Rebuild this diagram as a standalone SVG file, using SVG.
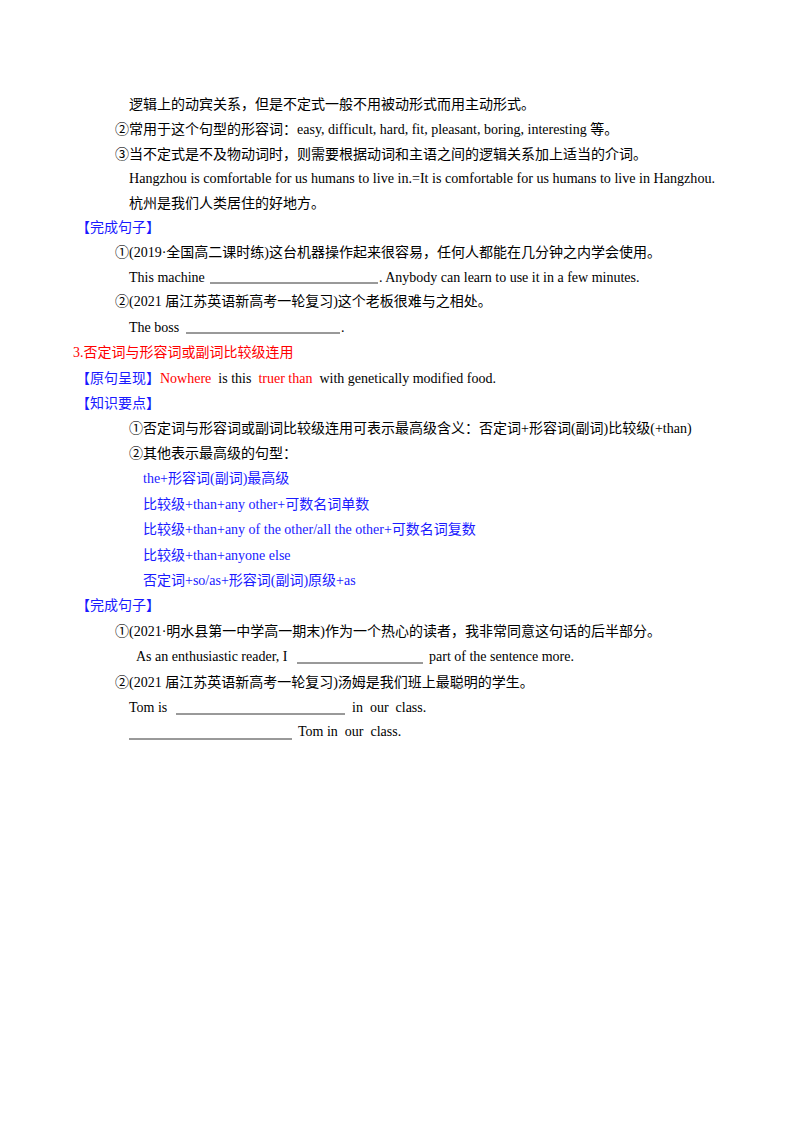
<svg xmlns="http://www.w3.org/2000/svg" width="800" height="1132" viewBox="0 0 800 1132">
<style>
text{font-family:"Liberation Serif","Noto Sans CJK SC",serif;font-size:14px;fill:#000}
.b{fill:#1a1aff}.r{fill:#ff0000}
line{stroke:#000;stroke-width:0.8}
</style>
<rect width="800" height="1132" fill="#fff"/>
<text x="129" y="109">逻辑上的动宾关系，但是不定式一般不用被动形式而用主动形式。</text>
<text x="115" y="134">②常用于这个句型的形容词：easy, difficult, hard, fit, pleasant, boring, interesting 等。</text>
<text x="115" y="159">③当不定式是不及物动词时，则需要根据动词和主语之间的逻辑关系加上适当的介词。</text>
<text x="129" y="183" textLength="586" lengthAdjust="spacingAndGlyphs">Hangzhou is comfortable for us humans to live in.=It is comfortable for us humans to live in Hangzhou.</text>
<text x="129" y="208">杭州是我们人类居住的好地方。</text>
<text x="76" y="232" class="b">【完成句子】</text>
<text x="115" y="257">①(2019·全国高二课时练)这台机器操作起来很容易，任何人都能在几分钟之内学会使用。</text>
<text x="129" y="282">This machine</text><line x1="210" y1="283" x2="378" y2="283"/><text x="379" y="282">. Anybody can learn to use it in a few minutes.</text>
<text x="115" y="306">②(2021 届江苏英语新高考一轮复习)这个老板很难与之相处。</text>
<text x="129" y="332">The boss</text><line x1="186" y1="333" x2="340" y2="333"/><text x="341" y="332">.</text>
<text x="73" y="357" class="r">3.否定词与形容词或副词比较级连用</text>
<text x="76" y="383" xml:space="preserve"><tspan class="b">【原句呈现】</tspan><tspan class="r">Nowhere</tspan>  is this  <tspan class="r">truer than</tspan>  with genetically modified food.</text>
<text x="76" y="408" class="b">【知识要点】</text>
<text x="129" y="433">①否定词与形容词或副词比较级连用可表示最高级含义：否定词+形容词(副词)比较级(+than)</text>
<text x="129" y="458">②其他表示最高级的句型：</text>
<text x="143" y="483" class="b">the+形容词(副词)最高级</text>
<text x="143" y="509" class="b">比较级+than+any other+可数名词单数</text>
<text x="143" y="534" class="b">比较级+than+any of the other/all the other+可数名词复数</text>
<text x="143" y="560" class="b">比较级+than+anyone else</text>
<text x="143" y="585" class="b">否定词+so/as+形容词(副词)原级+as</text>
<text x="76" y="610" class="b">【完成句子】</text>
<text x="115" y="636">①(2021·明水县第一中学高一期末)作为一个热心的读者，我非常同意这句话的后半部分。</text>
<text x="136" y="661">As an enthusiastic reader, I</text><line x1="297" y1="663" x2="423" y2="663"/><text x="429" y="661">part of the sentence more.</text>
<text x="115" y="687">②(2021 届江苏英语新高考一轮复习)汤姆是我们班上最聪明的学生。</text>
<text x="129" y="712">Tom is</text><line x1="176" y1="714" x2="345" y2="714"/><text x="352" y="712" xml:space="preserve">in  our  class.</text>
<line x1="129" y1="739" x2="292" y2="739"/><text x="298" y="736" xml:space="preserve">Tom in  our  class.</text>
</svg>
